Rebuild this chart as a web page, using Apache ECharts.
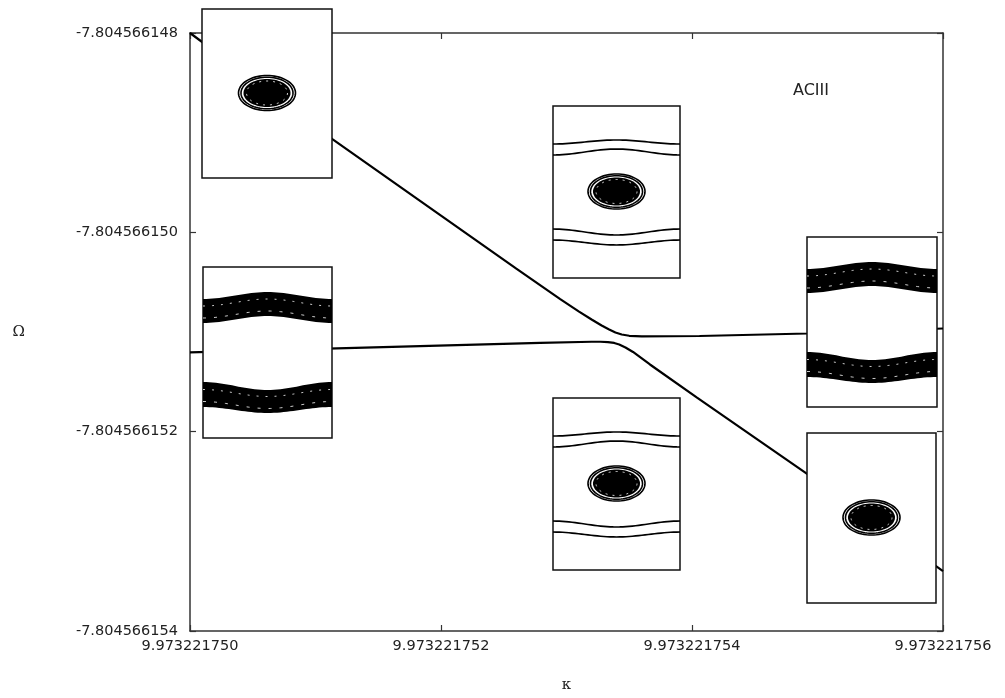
<!DOCTYPE html>
<html><head><meta charset="utf-8">
<script src="https://cdn.jsdelivr.net/npm/echarts@6/dist/echarts.min.js"></script>
<style>html,body{margin:0;padding:0;background:#fff}#c{width:1005px;height:698px}</style>
</head><body><div id="c"></div>
<script>
// ---- data (offsets in units of 1e-9 from the base values) ----
const kappaBase = 9.973221750;
const omegaBase = -7.804566148;
const unit = 1e-9;
const branchAx = [0, 0.6, 1.14, 2.0, 2.6, 2.95, 3.1, 3.2, 3.28, 3.34, 3.39, 3.44, 3.5, 3.6, 4.06, 4.92, 6];
const branchAy = [0, -0.56, -1.07, -1.833, -2.365, -2.67, -2.795, -2.875, -2.935, -2.975, -3.005, -3.025, -3.038, -3.044, -3.04, -3.015, -2.965];
const branchBx = [0, 1.17, 2.79, 3.2, 3.27, 3.33, 3.38, 3.42, 3.47, 3.53, 3.6, 3.665, 4.04, 4.9, 6];
const branchBy = [-3.205, -3.165, -3.11, -3.098, -3.098, -3.102, -3.11, -3.125, -3.155, -3.2, -3.265, -3.326, -3.659, -4.408, -5.399];
const annotation = 'ACIII';

// ---- layout of inset illustrations (pixels) ----
const insets = [
  {x:202, y:9,   w:130, h:169, kind:'blob'},
  {x:553, y:106, w:127, h:172, kind:'blobLines'},
  {x:553, y:398, w:127, h:172, kind:'blobLines'},
  {x:203, y:267, w:129, h:171, kind:'bands'},
  {x:807, y:237, w:130, h:170, kind:'bands'},
  {x:807, y:433, w:129, h:170, kind:'blob'}
];

function curve(w, edge, mid, n) {
  const pts = [];
  for (let i = 0; i <= n; i++) {
    const t = i / n;
    pts.push([t * w, edge + (mid - edge) * (1 - Math.cos(2 * Math.PI * t)) / 2]);
  }
  return pts;
}
function ellipsePts(cx, cy, rx, ry) {
  const pts = [];
  for (let i = 0; i < 72; i++) {
    const a = i / 72 * 2 * Math.PI;
    pts.push([cx + rx * Math.cos(a), cy + ry * Math.sin(a)]);
  }
  return pts;
}
function blob(cx, cy, z) {
  const out = [];
  [[28.5, 17.5], [26, 15.8]].forEach(r => out.push({
    type:'polygon', z:z, shape:{points: ellipsePts(cx, cy, r[0], r[1])},
    style:{fill:'none', stroke:'#000', lineWidth:1.6}
  }));
  out.push({type:'polygon', z:z, shape:{points: ellipsePts(cx, cy, 23.5, 14)}, style:{fill:'#000'}});
  out.push({type:'polygon', z:z + 1, shape:{points: ellipsePts(cx, cy, 20.5, 12)},
    style:{fill:'none', stroke:'#fff', lineWidth:0.8, lineDash:[2,5]}});
  return out;
}
function buildInset(s) {
  const z = 100;
  const ch = [{type:'rect', z:z, shape:{x:0, y:0, width:s.w, height:s.h},
    style:{fill:'#fff', stroke:'#111', lineWidth:1.5}}];
  if (s.kind === 'blob' || s.kind === 'blobLines') {
    blob(s.w / 2, s.h / 2 - 0.5, z + 1).forEach(e => ch.push(e));
  }
  if (s.kind === 'blobLines') {
    [[38, 34], [49, 43], [s.h - 49, s.h - 43], [s.h - 38, s.h - 33]].forEach(c => ch.push({
      type:'polyline', z:z + 1, shape:{points: curve(s.w, c[0], c[1], 40)},
      style:{stroke:'#000', lineWidth:1.7, fill:null}
    }));
  }
  if (s.kind === 'bands') {
    const bands = [[32, 25, 56, 49], [115, 123, 140, 146]];
    bands.forEach(b => {
      const top = curve(s.w, b[0], b[1], 40);
      const bot = curve(s.w, b[2], b[3], 40).reverse();
      ch.push({type:'polygon', z:z + 1, shape:{points: top.concat(bot)}, style:{fill:'#000'}});
      const midE = (b[0] + b[2]) / 2, midM = (b[1] + b[3]) / 2;
      ch.push({type:'polyline', z:z + 2, shape:{points: curve(s.w, midE - 5, midM - 5, 40)},
        style:{stroke:'#fff', lineWidth:0.8, lineDash:[2,7], fill:null}});
      ch.push({type:'polyline', z:z + 2, shape:{points: curve(s.w, midE + 7, midM + 7, 40)},
        style:{stroke:'#fff', lineWidth:0.8, lineDash:[3,8], fill:null}});
    });
  }
  return {type:'group', x:s.x, y:s.y, z:z, children:ch};
}

const fmtX = v => (kappaBase + v * unit).toFixed(9);
const fmtY = v => (omegaBase + v * unit).toFixed(9);
const labelFont = {fontFamily:'DejaVu Sans', fontSize:14.5, color:'#222'};
const frameLine = {show:true, onZero:false, lineStyle:{color:'#333', width:1.5}};
const tick = {show:true, inside:true, length:6, lineStyle:{color:'#333', width:1.2}};

const chart = echarts.init(document.getElementById('c'), null, {renderer:'canvas'});
chart.setOption({
  backgroundColor:'#fff',
  animation:false,
  grid:{left:190, right:62, top:33, bottom:66},
  xAxis:[{
    type:'value', position:'bottom', min:0, max:6, interval:2,
    name:'κ', nameLocation:'middle', nameGap:47,
    nameTextStyle:{fontFamily:'DejaVu Serif', fontSize:15, color:'#222'},
    axisLine:frameLine, axisTick:tick,
    axisLabel:Object.assign({formatter:fmtX, margin:8}, labelFont),
    splitLine:{show:false}
  },{
    type:'value', position:'top', min:0, max:6, interval:2,
    axisLine:frameLine, axisTick:tick,
    axisLabel:{show:false}, splitLine:{show:false}
  }],
  yAxis:[{
    type:'value', position:'left', min:-6, max:0, interval:2,
    name:'Ω', nameLocation:'middle', nameGap:165, nameRotate:0,
    nameTextStyle:{fontFamily:'DejaVu Serif', fontSize:15, color:'#222'},
    axisLine:frameLine, axisTick:tick,
    axisLabel:Object.assign({formatter:fmtY, margin:12}, labelFont),
    splitLine:{show:false}
  },{
    type:'value', position:'right', min:-6, max:0, interval:2,
    axisLine:frameLine, axisTick:tick,
    axisLabel:{show:false}, splitLine:{show:false}
  }],
  series:[{
    type:'line', name:'A', showSymbol:false, smooth:false,
    lineStyle:{color:'#000', width:2.2},
    data: branchAx.map((x, i) => [x, branchAy[i]])
  },{
    type:'line', name:'B', showSymbol:false, smooth:false,
    lineStyle:{color:'#000', width:2.2},
    data: branchBx.map((x, i) => [x, branchBy[i]])
  }],
  graphic: insets.map(buildInset).concat([{
    type:'text', left:793, top:83, z:100,
    style:{text:annotation, fontFamily:'DejaVu Sans', fontSize:16, fill:'#222'}
  }])
});
</script>
</body></html>
